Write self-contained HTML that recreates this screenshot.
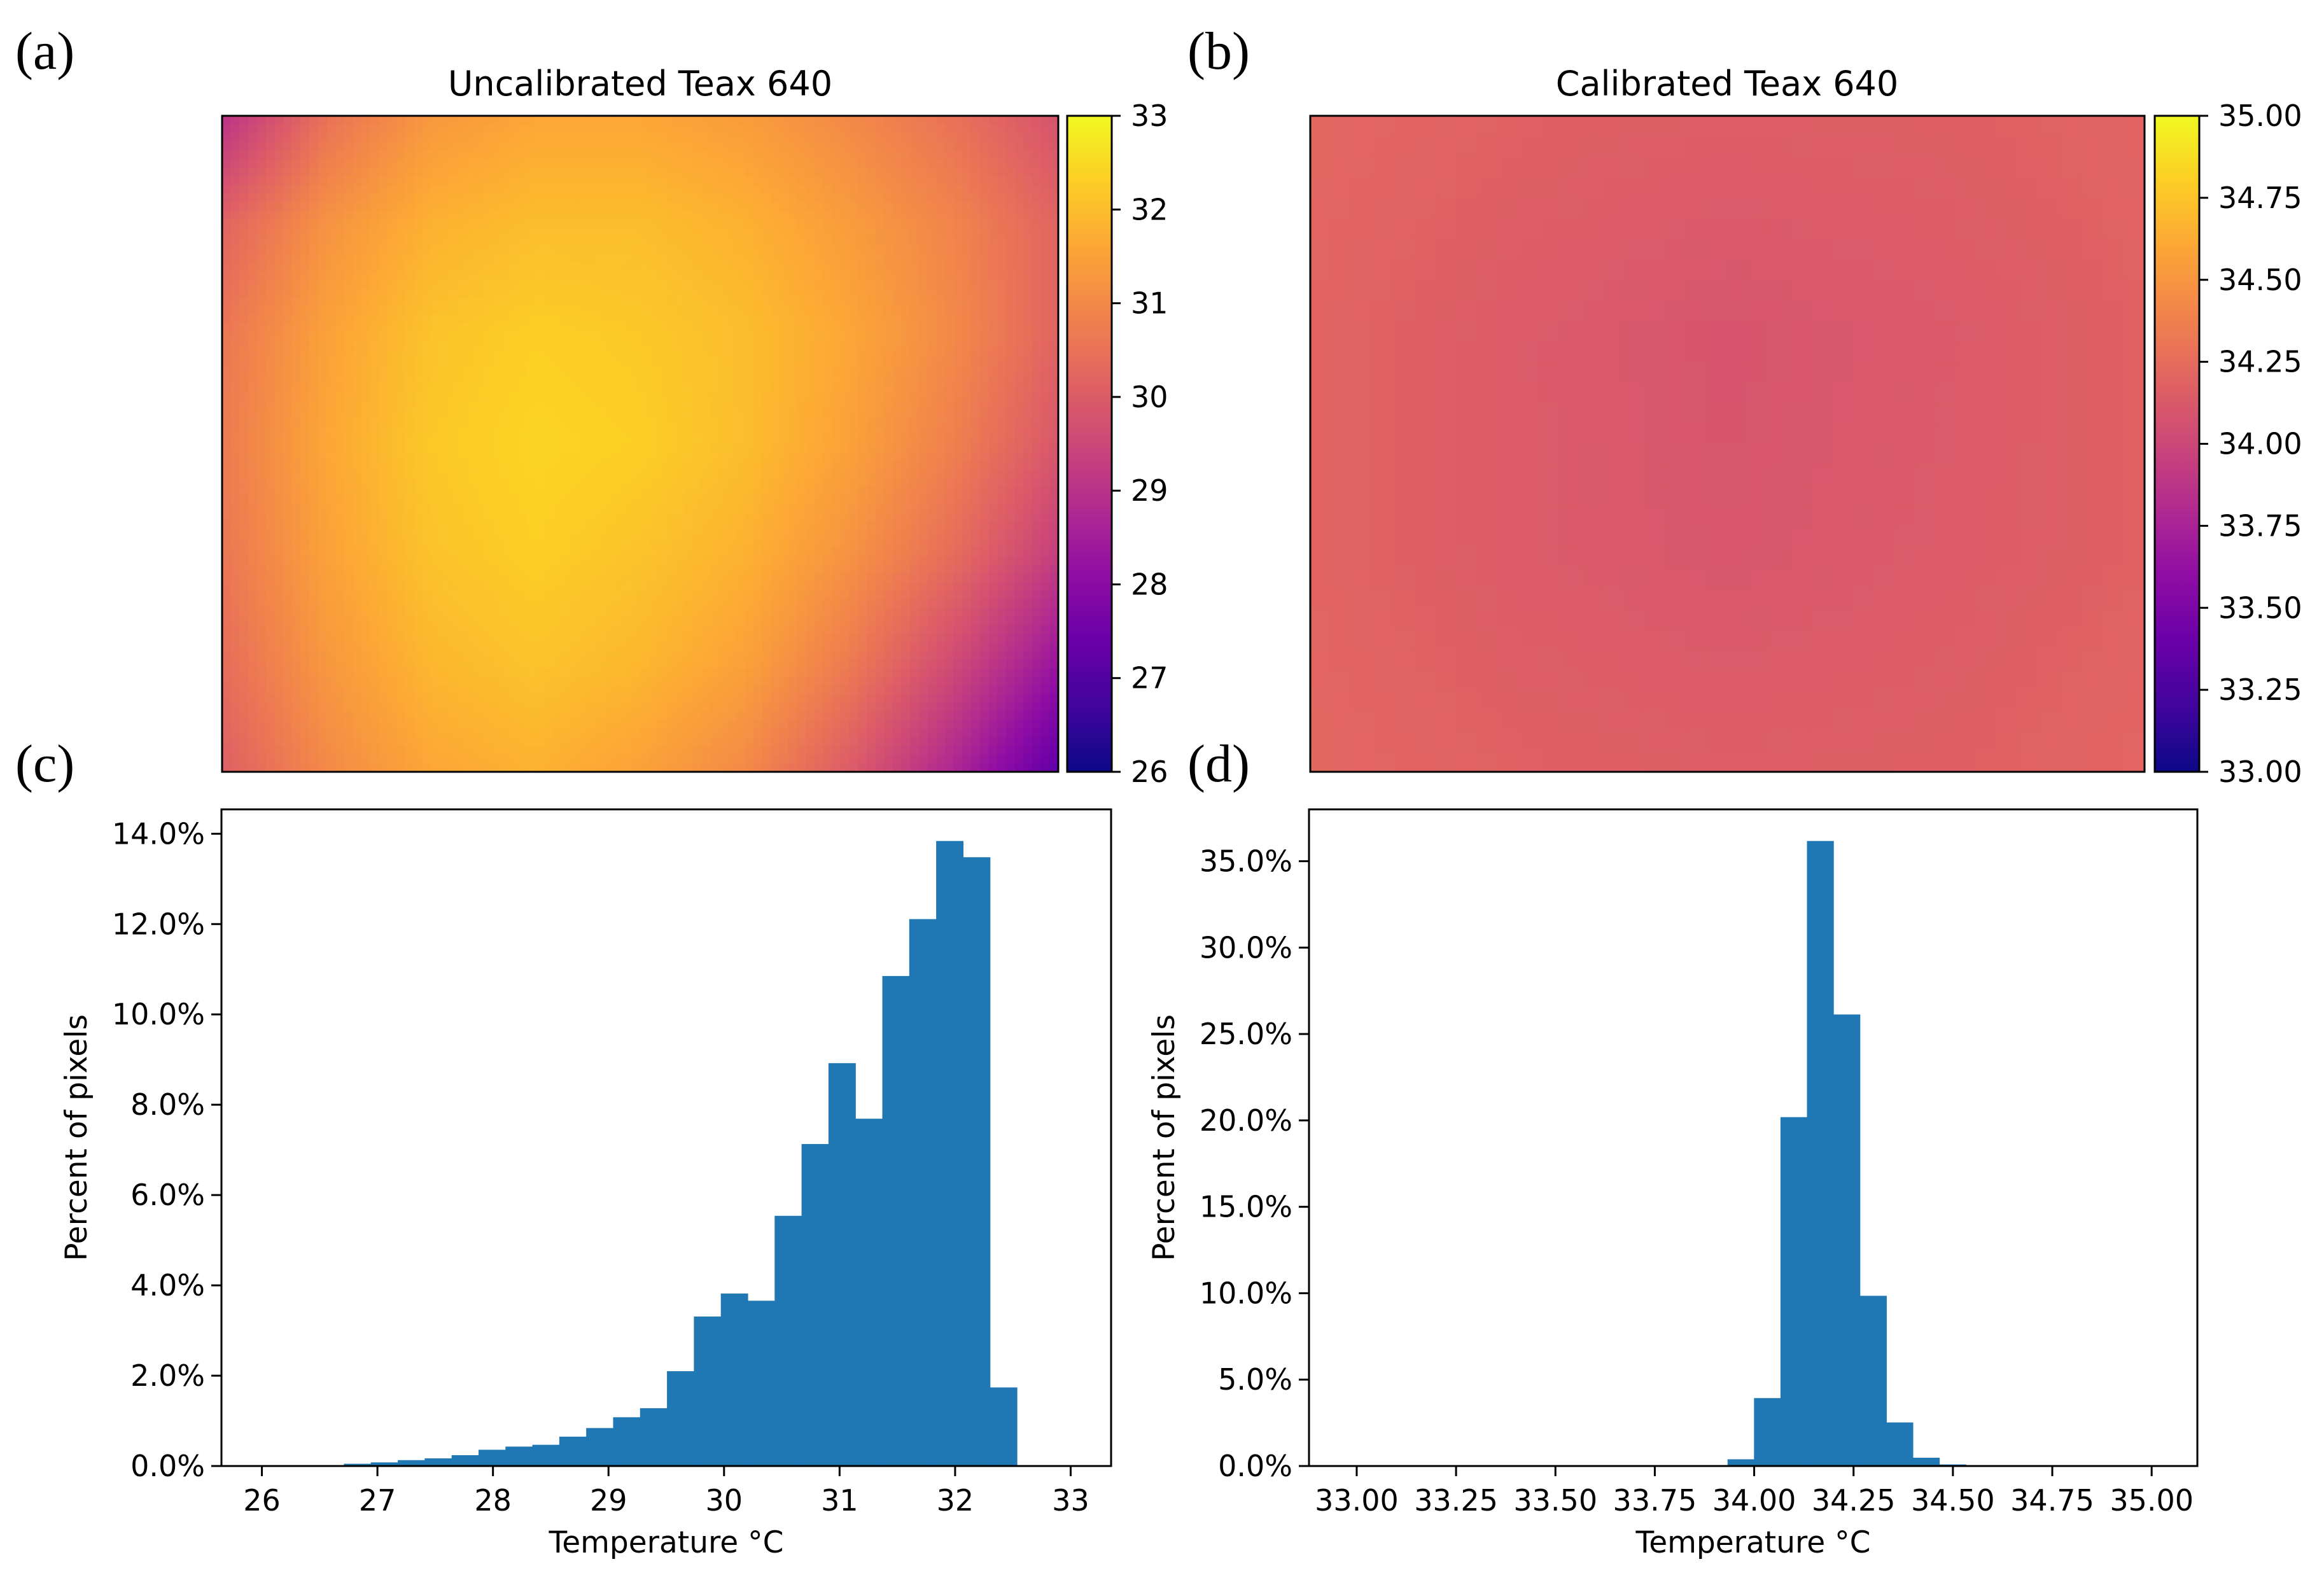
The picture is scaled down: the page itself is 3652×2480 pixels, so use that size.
<!DOCTYPE html>
<html><head><meta charset="utf-8">
<style>
html,body{margin:0;padding:0;background:#fff;}
svg{display:block;}
text{font-family:"DejaVu Sans","Liberation Sans",sans-serif;fill:#000;}
.pl{font-family:"Liberation Serif",serif;font-size:84px;}
</style></head>
<body>
<svg id="fig" width="3652" height="2480" viewBox="0 0 3652 2480" xmlns="http://www.w3.org/2000/svg">
<defs>
  <linearGradient id="plasmaV" x1="0" y1="1" x2="0" y2="0"></linearGradient>
  <clipPath id="clipA"><rect x="349" y="182" width="1314" height="1031"/></clipPath>
  <clipPath id="clipB"><rect x="2059" y="182" width="1311" height="1031"/></clipPath>
</defs>
<text class="pl" x="24" y="108">(a)</text>
<text class="pl" x="1866" y="108">(b)</text>
<text class="pl" x="24" y="1228">(c)</text>
<text class="pl" x="1866" y="1228">(d)</text>
<text x="1006" y="150" font-size="54" text-anchor="middle">Uncalibrated Teax 640</text>
<text x="2714" y="150" font-size="54" text-anchor="middle">Calibrated Teax 640</text>
<g id="gA" clip-path="url(#clipA)"></g>
<g id="gB" clip-path="url(#clipB)"></g>
<rect x="349" y="182" width="1314" height="1031" fill="none" stroke="#000" stroke-width="3"/>
<rect x="2059" y="182" width="1311" height="1031" fill="none" stroke="#000" stroke-width="3"/>
<g id="cbars"></g>
<g id="histC"></g>
<g id="histD"></g>
</svg>
<script>
// ---- data ----
const plasmaStops = ["#0d0887","#41049d","#6a00a8","#8f0da4","#b12a90","#cc4778","#e16462","#f2844b","#fca636","#fcce25","#f0f921"];
const gridA = [
 [29.0,30.5,31.3,31.6,31.6,31.4,31.0,30.5,29.8],
 [30.2,31.2,31.8,32.0,32.0,31.8,31.4,30.9,30.2],
 [30.6,31.5,32.1,32.3,32.2,32.0,31.6,31.0,30.2],
 [30.7,31.6,32.2,32.4,32.3,32.0,31.5,30.8,29.9],
 [30.6,31.5,32.1,32.3,32.1,31.8,31.2,30.4,29.3],
 [30.4,31.3,31.9,32.1,31.9,31.5,30.7,29.6,28.3],
 [30.1,31.0,31.6,31.8,31.5,31.0,30.0,28.7,27.2]
];
const gridB = [
 [34.22,34.18,34.16,34.17,34.20],
 [34.20,34.14,34.10,34.13,34.18],
 [34.20,34.14,34.11,34.14,34.18],
 [34.22,34.18,34.16,34.17,34.21]
];
const cbarATicks = [26,27,28,29,30,31,32,33];
const cbarBTicks = ["33.00","33.25","33.50","33.75","34.00","34.25","34.50","34.75","35.00"];
const histCStart = 26.71, histCWidth = 0.233;
const histCValues = [0.05,0.08,0.13,0.17,0.24,0.36,0.43,0.47,0.65,0.84,1.08,1.28,2.10,3.31,3.82,3.66,5.54,7.13,8.92,7.69,10.85,12.11,13.84,13.48,1.74];
const histCXTicks = [26,27,28,29,30,31,32,33];
const histCYTicks = [0,2,4,6,8,10,12,14];
const histDStart = 33.933, histDWidth = 0.0666;
const histDValues = [0.39,3.93,20.19,36.17,26.13,9.85,2.52,0.48,0.09];
const histDXTicks = ["33.00","33.25","33.50","33.75","34.00","34.25","34.50","34.75","35.00"];
const histDYTicks = [0,5,10,15,20,25,30,35];

const NS="http://www.w3.org/2000/svg";
function mk(tag,attrs,parent){const e=document.createElementNS(NS,tag);for(const k in attrs)e.setAttribute(k,attrs[k]);parent.appendChild(e);return e;}
function hex(h){return [parseInt(h.substr(1,2),16),parseInt(h.substr(3,2),16),parseInt(h.substr(5,2),16)];}
function plasma(f){f=Math.max(0,Math.min(1,f));const p=f*10,i=Math.min(9,Math.floor(p)),t=p-i;const a=hex(plasmaStops[i]),b=hex(plasmaStops[i+1]);return "rgb("+a.map((v,k)=>Math.round(v+(b[k]-v)*t)).join(",")+")";}

// colorbar gradient
const lg=document.getElementById('plasmaV');
plasmaStops.forEach((c,i)=>{mk('stop',{offset:(i*10)+"%","stop-color":c},lg);});

function heat(gid,grid,x0,y0,w,h,vmin,vmax,nx,ny){
  const g=document.getElementById(gid);
  const R=grid.length,C=grid[0].length;
  const cw=w/nx,ch=h/ny;
  for(let j=0;j<ny;j++){for(let i=0;i<nx;i++){
    const u=(i+0.5)/nx*(C-1),v=(j+0.5)/ny*(R-1);
    const i0=Math.min(C-2,Math.floor(u)),j0=Math.min(R-2,Math.floor(v));
    const fu=u-i0,fv=v-j0;
    const val=grid[j0][i0]*(1-fu)*(1-fv)+grid[j0][i0+1]*fu*(1-fv)+grid[j0+1][i0]*(1-fu)*fv+grid[j0+1][i0+1]*fu*fv;
    const r=mk('rect',{x:(x0+i*cw).toFixed(1),y:(y0+j*ch).toFixed(1),width:(cw+1).toFixed(1),height:(ch+1).toFixed(1),fill:plasma((val-vmin)/(vmax-vmin))},g);
    
    
  }}
}
heat('gA',gridA,349,182,1314,1031,26,33,96,76);
heat('gB',gridB,2059,182,1311,1031,33,35,40,32);

function cbar(x,labels,vmin,vmax,name){
  const g=document.getElementById('cbars');
  const top=182,bot=1213;
  const r=mk('rect',{x:x,y:top,width:70,height:bot-top,fill:"url(#plasmaV)",stroke:"#000","stroke-width":3},g);
  
  
  labels.forEach(l=>{
    const v=parseFloat(l);const y=bot-(v-vmin)/(vmax-vmin)*(bot-top);
    mk('line',{x1:x+70,x2:x+84,y1:y,y2:y,stroke:"#000","stroke-width":3},g);
    const t=mk('text',{x:x+100,y:y+16,"font-size":46},g);
    t.textContent=l;
    
    
  });
}
cbar(1677,cbarATicks.map(String),26,33,'colorbar-uncalibrated');
cbar(3386,cbarBTicks,33,35,'colorbar-calibrated');

function hist(gid,L,R,T,B,xmin,xmax,ymax,start,width,vals,xt,yt,ydec){
  const g=document.getElementById(gid);
  const X=v=>L+(v-xmin)/(xmax-xmin)*(R-L);
  const Y=v=>B-v/ymax*(B-T);
  vals.forEach((v,i)=>{
    const x1=X(start+i*width),x2=X(start+(i+1)*width);
    const r=mk('rect',{x:x1,y:Y(v),width:x2-x1+0.6,height:B-Y(v),fill:"#1f77b4"},g);
    
    
  });
  const fr=mk('rect',{x:L,y:T,width:R-L,height:B-T,fill:"none",stroke:"#000","stroke-width":3},g);
  
  
  xt.forEach(l=>{const x=X(parseFloat(l));
    mk('line',{x1:x,x2:x,y1:B,y2:B+16,stroke:"#000","stroke-width":3},g);
    const t=mk('text',{x:x,y:B+70,"font-size":46,"text-anchor":"middle"},g);t.textContent=l;
    
    });
  yt.forEach(v=>{const y=Y(v);
    mk('line',{x1:L-16,x2:L,y1:y,y2:y,stroke:"#000","stroke-width":3},g);
    const t=mk('text',{x:L-26,y:y+16,"font-size":46,"text-anchor":"end"},g);t.textContent=v.toFixed(1)+"%";
    
    });
  const xl=mk('text',{x:(L+R)/2,y:B+136,"font-size":47,"text-anchor":"middle"},g);xl.textContent="Temperature °C";
  
  
  const cy=(T+B)/2, cx=L-ydec;
  const yl=mk('text',{x:cx,y:cy,"font-size":47,"text-anchor":"middle",transform:"rotate(-90 "+cx+" "+cy+")"},g);yl.textContent="Percent of pixels";
  
  
}
hist('histC',348,1746,1272,2304,25.65,33.35,14.54,histCStart,histCWidth,histCValues,histCXTicks.map(String),histCYTicks,212);
hist('histD',2057,3453,1272,2304,32.88,35.115,38.0,histDStart,histDWidth,histDValues,histDXTicks,histDYTicks,212);
</script>
</body></html>
